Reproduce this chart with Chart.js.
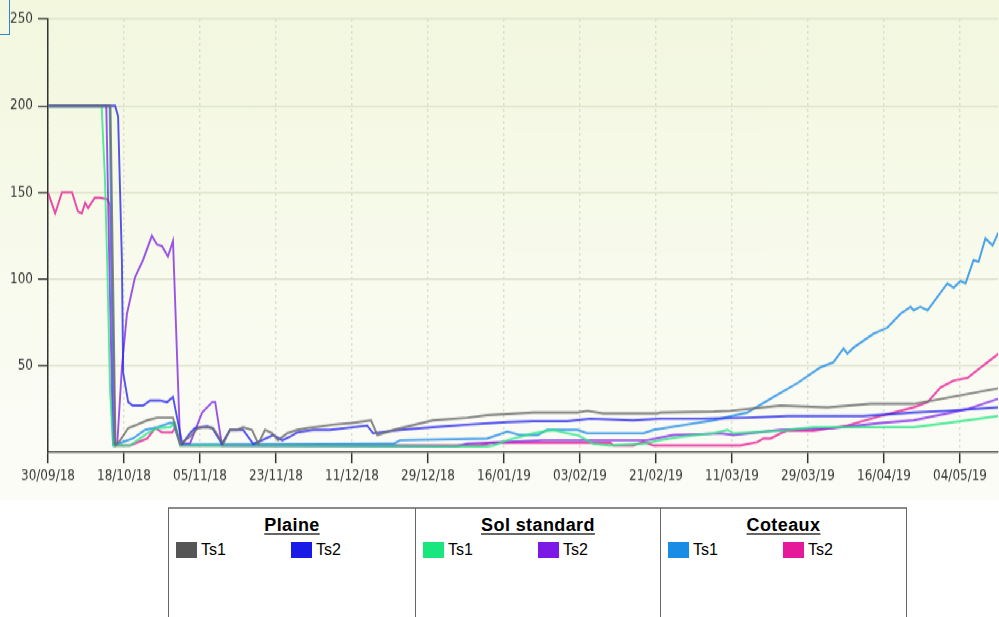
<!DOCTYPE html>
<html lang="fr">
<head>
<meta charset="utf-8">
<script src="https://cdn.jsdelivr.net/npm/chart.js@4.4.0/dist/chart.umd.min.js"></script>
<style>
    body { margin: 0; width: 999px; height: 617px; overflow: hidden; position: relative; background: #fff; font-family: "Liberation Sans", Arial, sans-serif; }
    #zone { position: absolute; left: 0; top: 0; width: 999px; height: 417px; transform: scaleY(1.2); transform-origin: 0 0;
        background: linear-gradient(#f2f7de, #f8fbed 55%, #fcfcf8); }
    #coin { position: absolute; left: 0; top: 0; width: 10px; height: 35px; border-right: 1px solid #2f86d6; border-bottom: 1px solid #2f86d6; box-sizing: border-box; }
    .colonne { position: absolute; top: 507px; height: 120px; border-top: 2px solid #8a8a8a; border-left: 1.5px solid #666; box-sizing: border-box; }
    .titre { position: absolute; left: 0; right: 0; top: 5.7px; text-align: center; font-weight: bold; font-size: 18px; line-height: 20px; letter-spacing: 0.4px;
        text-decoration: underline; text-decoration-thickness: 2px; text-underline-offset: 2px; text-decoration-color: #666; color: #000; }
    .carre { position: absolute; top: 33px; width: 21px; height: 16px; }
    .texte { position: absolute; top: 31.5px; font-size: 16px; line-height: 18px; color: #000; }
</style>
</head>
<body>
<div id="zone"><canvas id="graphique"></canvas></div>
<div id="coin"></div>
<div id="legende"></div>
<script>
// Graduations de l'axe des dates (jours depuis le 30/09/18)
const joursGraduation = [0, 18, 36, 54, 72, 90, 108, 126, 144, 162, 180, 198, 216];
const etiquettesDates = ["30/09/18", "18/10/18", "05/11/18", "23/11/18", "11/12/18", "29/12/18", "16/01/19",
    "03/02/19", "21/02/19", "11/03/19", "29/03/19", "16/04/19", "04/05/19"];

// Séries [jour, valeur]
const plaineTs1 = [[0,200],[14.8,200],[16,4],[17.1,7],[19,14],[21.1,16],[23.5,18.5],[25.8,20],[29.6,20],[31.3,5],[33.6,9],[35.5,14],[37.2,14.5],[39.1,14],[41.5,5],[43.1,13],[44.8,13],[46.2,14.5],[48.3,13],[49.8,5],[51.4,13],[53.1,11],[54.5,7],[56.6,11],[59,13],[61.4,14],[64.5,15],[67.5,16],[72,17],[76.5,18.5],[78,10],[81.8,13],[91.2,18.5],[99.3,20],[104,21.5],[114.9,23],[125.4,23],[127.7,24],[131.5,22.5],[144.3,22.5],[145,23],[157.6,23.5],[161.6,24],[173.5,27],[184.6,26],[194.8,28],[205,28],[209.7,30],[218.5,34],[225.1,37]];
const plaineTs2 = [[0,200],[15.9,200],[16.6,194],[17.5,111],[17.8,46],[19,29],[20.1,27],[22.5,27],[24.2,30],[26.5,30],[28.2,29],[29.6,32],[31.8,5],[33.6,11],[34.8,14],[37.7,15],[38.9,14],[41.2,5],[43.1,13],[46.2,13],[48.6,5],[50.7,7],[53.3,10],[55.5,7],[57.3,9],[59,11.5],[62.8,13],[66.8,13],[75.6,15.5],[77,11],[83.4,13],[91.2,14.5],[99.3,16],[108.8,17.5],[114.9,18],[123,18],[128.4,19.5],[138.6,18.5],[145,19.5],[154.5,19.5],[165.6,20],[175.1,21],[193.1,21],[205,23],[213,24],[225.1,26]];
const solTs1 = [[0,200],[12.7,200],[13.5,157],[14,111],[14.7,36],[15.4,4],[19.4,4],[23.5,11],[25.8,14],[28.9,14.5],[30.1,17],[31.3,4],[104,3.5],[105.5,4],[108.8,7],[114.9,11],[119.7,13],[123,11],[125.4,10],[127.7,7],[129.1,5],[133,4],[141,5],[145,7],[149.8,9],[157.6,11],[160.9,13],[162.3,11],[173.5,12.5],[181.3,14.5],[205,14.5],[213,17],[225.1,21]];
const solTs2 = [[0,200],[13.8,200],[14.6,100],[15.4,5],[16.4,5],[17.5,49],[18.7,80],[20.6,101],[22.5,111],[24.6,125],[25.8,120],[27,119],[28.4,113],[29.6,122],[31.3,5],[33.6,5],[36.5,23],[38.9,29],[39.6,29],[41.2,4],[96.9,3.5],[99.3,5],[117.3,7],[141.9,7],[148.1,10],[154.5,10.5],[159.2,11],[162.3,10],[173.5,13],[186,14],[197.2,17],[205,18.5],[213,22.5],[217.8,25],[225.1,31]];
const coteauxTs1 = [[0,200],[14.6,200],[15.6,4],[16.6,5],[20.1,8],[23,13],[25.8,14.5],[28.9,17],[29.6,17],[31.3,5],[33.6,4.5],[81.8,5],[83.4,7],[104,8],[108.8,12],[111.8,10],[116,10],[118.2,13],[125.4,13],[127.7,11],[141,11],[143.4,13],[149.8,15.5],[157.6,18.5],[165.6,23],[171.8,32],[177.5,40],[182.9,49],[186,52],[188.4,60],[189.3,57],[190.8,60.5],[195.5,68.5],[198.8,72],[201.9,80],[204.3,84],[205,82],[206.6,84],[208.3,82],[213,97.5],[214.5,95],[216.1,99],[217.3,97.5],[219.2,111],[220.4,110],[222,123.5],[223.7,119.5],[225.1,127]];
const coteauxTs2 = [[0,150],[1.7,138],[3.3,150],[5.7,150],[7.1,139],[8,138],[8.8,144],[9.5,141],[11.1,147],[12.3,147],[14,146],[14.7,143],[15.9,4],[19.4,4],[23.5,8],[25.4,14],[27,11.5],[29.4,11.5],[30.1,14],[31.3,4],[102.4,4],[105,5.5],[133.2,5.5],[133.9,4],[138.6,4],[141,6],[143.4,4],[164,4],[168,6],[169.4,8],[171.1,8],[173.5,11],[175.1,12.5],[181.3,12.5],[189.3,15.5],[197.2,21],[205,26],[208.3,29],[211.4,37.5],[214.5,41.5],[217.8,43],[220.9,49],[222.5,52],[225.1,57]];

// Légende par groupe
const groupes = ["Plaine", "Sol standard", "Coteaux"];
const capteurs = ["Ts1", "Ts2"];
const couleursLegende = [["#555555", "#1a1ae6"], ["#19e67c", "#7c19e6"], ["#198ce6", "#e6199a"]];
const couleursTraits = [["rgba(110,110,110,0.85)", "rgba(40,40,235,0.8)"], ["rgba(40,230,130,0.8)", "rgba(130,40,230,0.8)"], ["rgba(40,145,230,0.85)", "rgba(230,40,155,0.85)"]];
const series = [[plaineTs1, plaineTs2], [solTs1, solTs2], [coteauxTs1, coteauxTs2]];

const datasets = [];
groupes.forEach((g, i) => {
    capteurs.forEach((c, j) => {
        datasets.push({
            label: g + " " + c,
            data: series[i][j],
            borderColor: couleursTraits[i][j],
            borderWidth: 1.9,
            pointRadius: 0,
            tension: 0
        });
    });
});

const config = {
    type: "line",
    data: { datasets: datasets },
    options: {
        responsive: true,
        maintainAspectRatio: false,
        animation: false,
        layout: { padding: { top: 16, left: 0, right: 0, bottom: 0 } },
        plugins: { legend: { display: false }, tooltip: { enabled: false } },
        scales: {
            x: {
                type: "linear",
                min: 0,
                max: 225,
                afterBuildTicks: scale => { scale.ticks = joursGraduation.map(v => ({ value: v })); },
                afterFit: scale => { scale.height = 40; },
                ticks: {
                    autoSkip: false,
                    maxRotation: 0,
                    padding: 4,
                    color: "#333",
                    font: { family: "DejaVu Sans", size: 12 },
                    callback: (value, index) => etiquettesDates[index]
                },
                grid: { color: "#d3d6c6", lineWidth: 1.4, tickColor: "#333", tickLength: 9, tickWidth: 1.5, tickBorderDash: [] },
                border: { color: "#333", width: 1.3, dash: [1.7, 3.3] }
            },
            y: {
                min: 0,
                max: 250,
                afterFit: scale => { scale.width = 48; },
                ticks: {
                    stepSize: 50,
                    padding: 5,
                    color: "#333",
                    font: { family: "DejaVu Sans", size: 12 },
                    callback: v => (v === 0 ? "" : v)
                },
                grid: {
                    color: "#dce1c8",
                    lineWidth: 1.3,
                    tickLength: 10,
                    tickWidth: 1.2,
                    tickColor: ctx => (ctx.tick && ctx.tick.value === 0 ? "rgba(0,0,0,0)" : "#333")
                },
                border: { color: "#333", width: 1.5 }
            }
        }
    }
};

new Chart(document.querySelector("#graphique"), config);

// Construction de la légende en colonnes
const gauches = [168, 415, 660];
const largeurs = [247, 245, 247];
const legende = document.querySelector("#legende");
groupes.forEach((g, i) => {
    const col = document.createElement("div");
    col.className = "colonne";
    col.style.left = gauches[i] + "px";
    col.style.width = largeurs[i] + "px";
    if (i === groupes.length - 1) col.style.borderRight = "1.5px solid #666";
    const titre = document.createElement("div");
    titre.className = "titre";
    titre.textContent = g;
    col.appendChild(titre);
    capteurs.forEach((c, j) => {
        const carre = document.createElement("div");
        carre.className = "carre";
        carre.style.left = (7 + j * 115) + "px";
        carre.style.background = couleursLegende[i][j];
        col.appendChild(carre);
        const texte = document.createElement("div");
        texte.className = "texte";
        texte.style.left = (32 + j * 115) + "px";
        texte.textContent = c;
        col.appendChild(texte);
    });
    legende.appendChild(col);
});
</script>
</body>
</html>
